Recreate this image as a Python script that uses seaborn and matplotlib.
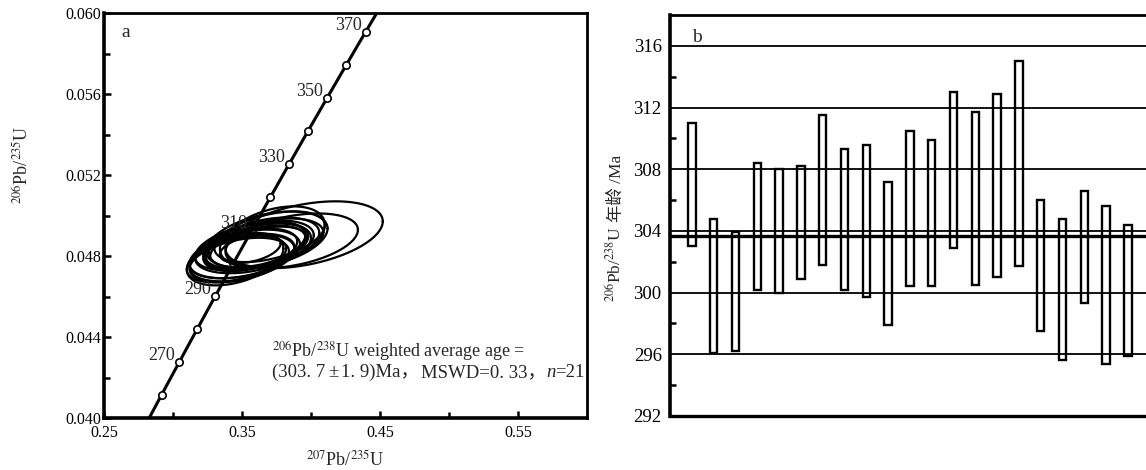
import numpy as np
import pandas as pd
import matplotlib
matplotlib.use("Agg")
import matplotlib.pyplot as plt
from matplotlib.ticker import MultipleLocator, FixedLocator, FormatStrFormatter
import seaborn as sns

# ---------------- data ----------------
# U decay constants (1/yr) used to trace the concordia curve
LAMBDA_238 = 1.55125e-10
LAMBDA_235 = 9.8485e-10

concordia_marks_ma = [260, 270, 280, 290, 300, 310, 320, 330, 340, 350, 360, 370]
concordia_labels_ma = [270, 290, 310, 330, 350, 370]

# zircon spot analyses: 207Pb/235U, 206Pb/238U, 2-sigma errors, error correlation
ratio_207_235 = [0.356, 0.350, 0.348, 0.360, 0.356, 0.362, 0.366, 0.360, 0.358, 0.352, 0.366,
                 0.362, 0.370, 0.368, 0.372, 0.395, 0.350, 0.346, 0.386, 0.345, 0.356]
err_207_235 = [0.040, 0.038, 0.036, 0.036, 0.034, 0.035, 0.040, 0.038, 0.042, 0.040, 0.043,
               0.040, 0.040, 0.044, 0.038, 0.057, 0.038, 0.036, 0.048, 0.035, 0.022]
ratio_206_238 = [0.04850, 0.04790, 0.04780, 0.04840, 0.04830, 0.04845, 0.04865, 0.04845, 0.04840,
                 0.04810, 0.04860, 0.04855, 0.04895, 0.04880, 0.04895, 0.04905, 0.04800, 0.04785,
                 0.04875, 0.04785, 0.04835]
err_206_238 = [0.00120, 0.00115, 0.00110, 0.00110, 0.00105, 0.00100, 0.00125, 0.00115, 0.00125,
               0.00120, 0.00125, 0.00120, 0.00125, 0.00140, 0.00150, 0.00165, 0.00110, 0.00115,
               0.00135, 0.00130, 0.00070]
err_corr = [0.45, 0.40, 0.40, 0.45, 0.40, 0.45, 0.40, 0.45, 0.40, 0.40, 0.45,
            0.40, 0.45, 0.40, 0.40, 0.40, 0.40, 0.45, 0.40, 0.40, 0.40]

# 206Pb/238U ages (Ma) with 2-sigma errors, one bar per spot
spot_no = list(range(1, 22))
age_206_238 = [307.0, 300.45, 300.05, 304.3, 304.0, 304.55, 306.65, 304.75, 304.65, 302.55, 305.45,
               305.15, 307.95, 306.1, 306.95, 308.35, 301.75, 300.2, 302.95, 300.5, 300.15]
age_err = [4.0, 4.35, 3.85, 4.1, 4.0, 3.65, 4.85, 4.55, 4.95, 4.65, 5.05,
           4.75, 5.05, 5.6, 5.95, 6.65, 4.25, 4.6, 3.65, 5.1, 4.25]
weighted_mean_age = 303.7
age_grid = [296, 300, 304, 308, 312, 316]

# ---------------- style ----------------
sns.set_theme(style="ticks")
plt.rcParams["font.family"] = ["Liberation Serif", "Noto Sans CJK SC"]
plt.rcParams["mathtext.fontset"] = "stix"
plt.rcParams["axes.edgecolor"] = "black"
plt.rcParams["xtick.color"] = "black"
plt.rcParams["ytick.color"] = "black"

W, H = 1146, 470
fig = plt.figure(figsize=(W / 100, H / 100), dpi=100)
fig.patch.set_facecolor("white")


def text_run(ax, x, y, pieces, fontsize):
    """Write consecutive text pieces on one baseline (data coords)."""
    first, first_kw = pieces[0]
    prev = ax.text(x, y, first, fontsize=fontsize, va="baseline", ha="left", **first_kw)
    for s, kw in pieces[1:]:
        kw = dict(kw)
        gap = kw.pop("gap", 0)
        prev = ax.annotate(s, xy=(1.0, y), xycoords=(prev, ax.transData),
                           xytext=(gap, 0), textcoords="offset points",
                           fontsize=fontsize, va="baseline", ha="left", **kw)
    return prev


# ================= panel a: concordia =================
axa = fig.add_axes([104 / W, 52 / H, 483 / W, 405 / H])

t = np.linspace(250, 385, 400) * 1e6
conc = pd.DataFrame({"x": np.exp(LAMBDA_235 * t) - 1, "y": np.exp(LAMBDA_238 * t) - 1})
sns.lineplot(data=conc, x="x", y="y", sort=False, estimator=None, color="black",
             lw=2.2, ax=axa, zorder=2)

tm = np.array(concordia_marks_ma) * 1e6
marks = pd.DataFrame({"x": np.exp(LAMBDA_235 * tm) - 1, "y": np.exp(LAMBDA_238 * tm) - 1})
sns.scatterplot(data=marks, x="x", y="y", marker="o", s=28, color="white",
                edgecolor="black", linewidth=1.2, ax=axa, zorder=3)

for a in concordia_labels_ma:
    ta = a * 1e6
    axa.annotate(str(a), xy=(np.exp(LAMBDA_235 * ta) - 1, np.exp(LAMBDA_238 * ta) - 1),
                 xytext=(-3, 1.5), textcoords="offset points", ha="right", va="baseline",
                 fontsize=13, zorder=5)

# error ellipses
theta = np.linspace(0, 2 * np.pi, 121)
rows = []
for i, (x0, sx, y0, sy, r) in enumerate(zip(ratio_207_235, err_207_235, ratio_206_238,
                                            err_206_238, err_corr)):
    ex = x0 + sx * np.cos(theta)
    ey = y0 + sy * (r * np.cos(theta) + np.sqrt(1 - r ** 2) * np.sin(theta))
    rows.append(pd.DataFrame({"spot": i, "x": ex, "y": ey}))
ell = pd.concat(rows, ignore_index=True)
sns.lineplot(data=ell, x="x", y="y", units="spot", estimator=None, sort=False,
             color="black", lw=1.6, legend=False, ax=axa, zorder=4)

axa.set_xlim(0.25, 0.60)
axa.set_ylim(0.040, 0.060)
axa.xaxis.set_major_locator(FixedLocator([0.25, 0.35, 0.45, 0.55]))
axa.xaxis.set_minor_locator(FixedLocator([0.30, 0.40, 0.50]))
axa.xaxis.set_major_formatter(FormatStrFormatter("%.2f"))
axa.yaxis.set_major_locator(MultipleLocator(0.004))
axa.yaxis.set_minor_locator(MultipleLocator(0.002))
axa.yaxis.set_major_formatter(FormatStrFormatter("%.3f"))
axa.tick_params(which="both", direction="in", width=1.8, labelsize=11.5)
axa.tick_params(axis="x", which="both", pad=5)
axa.tick_params(axis="y", which="both", pad=2)
axa.tick_params(which="major", length=5)
axa.tick_params(which="minor", length=4)
for side, lw in {"left": 2.6, "bottom": 2.6, "top": 2.0, "right": 2.0}.items():
    axa.spines[side].set_linewidth(lw)
    axa.spines[side].set_visible(True)

axa.set_xlabel(r"$^{207}$Pb/$^{235}$U", fontsize=13)
axa.xaxis.set_label_coords(0.5, -0.078)
axa.set_ylabel(r"$^{206}$Pb/$^{235}$U", fontsize=13)
axa.yaxis.set_label_coords(-0.147, 0.625)

axa.text(0.037, 0.941, "a", transform=axa.transAxes, fontsize=14)

axa.text(0.3717, 0.04296, r"$^{206}$Pb/$^{238}$U weighted average age =",
         fontsize=13, va="baseline", ha="left")
text_run(axa, 0.3717, 0.04202, [
    ("(303. 7", {}),
    ("±", {"gap": 2}),
    ("1. 9)Ma，", {"gap": 2}),
    ("MSWD=0. 33，", {"gap": 1}),
    ("n", {"fontstyle": "italic"}),
    ("=21", {}),
], fontsize=13.5)

# ================= panel b: 206Pb/238U ages =================
axb = fig.add_axes([670 / W, 54 / H, 476 / W, 401 / H])

for g in age_grid:
    axb.axhline(g, color="black", lw=1.3, zorder=1)
axb.axhline(weighted_mean_age, color="black", lw=2.4, zorder=1)

ages = np.array(age_206_238)
errs = np.array(age_err)
axb.bar(spot_no, 2 * errs, bottom=ages - errs, width=0.34, fill=False,
        edgecolor="black", linewidth=1.7, zorder=3)

axb.set_xlim(0, 21.83)
axb.set_ylim(292, 318)
axb.set_xticks([])
axb.yaxis.set_major_locator(FixedLocator([292, 296, 300, 304, 308, 312, 316]))
axb.yaxis.set_minor_locator(FixedLocator([294, 298, 302, 306, 310, 314]))
axb.tick_params(axis="y", which="both", direction="in", width=1.8, labelsize=13.5, pad=6)
axb.tick_params(axis="y", which="major", length=0)
axb.tick_params(axis="y", which="minor", length=4)
axb.spines["right"].set_visible(False)
axb.spines["left"].set_linewidth(2.6)
axb.spines["top"].set_linewidth(2.0)
axb.spines["bottom"].set_linewidth(2.4)

axb.text(0.046, 0.933, "b", transform=axb.transAxes, fontsize=14)

# rotated axis title assembled from a mathtext part and a CJK part
ylab1 = fig.text(621 / W, (H - 302) / H, r"$^{206}$Pb/$^{238}$U", rotation=90,
                 rotation_mode="anchor", ha="left", va="baseline", fontsize=12.5)
axb.annotate("年龄 /Ma", xy=(621, 1.0), xycoords=("figure pixels", ylab1),
             xytext=(0, 3), textcoords="offset points", rotation=90,
             rotation_mode="anchor", ha="left", va="baseline", fontsize=12.5,
             annotation_clip=False)

fig.savefig("out.png", dpi=100, facecolor="white")
